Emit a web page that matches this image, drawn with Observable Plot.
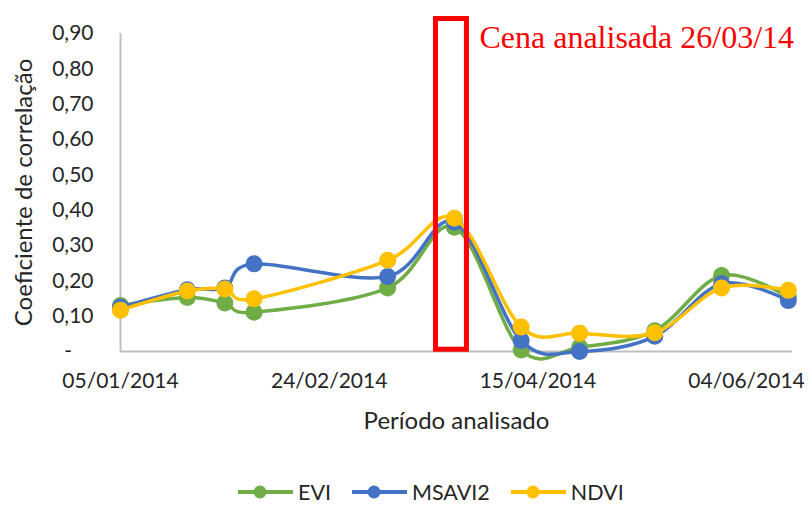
<!DOCTYPE html>
<html>
<head>
<meta charset="utf-8">
<script src="https://cdn.jsdelivr.net/npm/d3@7"></script>
<script src="https://cdn.jsdelivr.net/npm/@observablehq/plot@0.6"></script>
<style>
  html, body { margin: 0; padding: 0; background: #fff; }
  #wrap { position: relative; width: 808px; height: 507px; font-family: Lato, "Open Sans", sans-serif; }
  #legend { position: absolute; left: 238px; top: 478px; height: 28px; display: flex; align-items: center; font-size: 21.5px; color: #262626; }
  #legend .item { display: flex; align-items: center; margin-right: 21px; }
  #legend svg { margin-right: 5px; }
</style>
</head>
<body>
<div id="wrap"><div id="chart"></div><div id="legend"></div></div>
<script>
// ---- data ----
const dates = ["2014-01-05","2014-01-21","2014-01-30","2014-02-06","2014-03-10","2014-03-26","2014-04-11","2014-04-25","2014-05-13","2014-05-29","2014-06-14"];
const evi    = [0.130, 0.153, 0.137, 0.111, 0.180, 0.352, 0.004, 0.012, 0.059, 0.215, 0.154];
const msavi2 = [0.125, 0.175, 0.180, 0.248, 0.212, 0.366, 0.031, 0.000, 0.043, 0.192, 0.144];
const ndvi   = [0.117, 0.171, 0.177, 0.149, 0.258, 0.377, 0.069, 0.052, 0.053, 0.180, 0.173];
const seriesNames = ["EVI", "MSAVI2", "NDVI"];
const seriesColors = ["#70AD47", "#4472C4", "#FFC000"];
const yTicks = [0, 0.1, 0.2, 0.3, 0.4, 0.5, 0.6, 0.7, 0.8, 0.9];
const xTicks = ["2014-01-05", "2014-02-24", "2014-04-15", "2014-06-04"];
const xDomain = ["2014-01-05", "2014-06-15"];
const highlightBox = {x1: "2014-03-21T14:00:00Z", x2: "2014-03-29T00:00:00Z", y1: 0.005, y2: 0.941};
const highlightLabel = {x: "2014-04-01", y: 0.889, text: "Cena analisada 26/03/14"};

// ---- build ----
const parse = s => new Date(s.length === 10 ? s + "T00:00:00Z" : s);
const values = [evi, msavi2, ndvi];
const rows = seriesNames.map((name, i) => dates.map((d, j) => ({series: name, date: parse(d), value: values[i][j]})));
const fmtY = v => v === 0 ? "-\u00a0\u00a0\u00a0\u00a0" : v.toFixed(2).replace(".", ",");
const fmtX = d3.utcFormat("%d/%m/%Y");

const seriesMarks = rows.flatMap((data, i) => [
  Plot.line(data, {x: "date", y: "value", stroke: seriesColors[i], strokeWidth: 3.5, curve: "cardinal"}),
  Plot.dot(data, {x: "date", y: "value", fill: seriesColors[i], r: 8.5, stroke: "none"})
]);

const chart = Plot.plot({
  width: 808,
  height: 455,
  marginLeft: 120,
  marginRight: 16,
  marginTop: 33,
  marginBottom: 104,
  style: {fontFamily: "Lato, 'Open Sans', sans-serif", color: "#404040", background: "white"},
  x: {type: "utc", domain: xDomain.map(parse)},
  y: {domain: [0, 0.9]},
  marks: [
    Plot.ruleX([parse(xDomain[0])], {y1: 0, y2: 0.9, stroke: "#bfbfbf", strokeWidth: 2}),
    Plot.ruleY([0], {stroke: "#bfbfbf", strokeWidth: 2}),
    Plot.axisY({ticks: yTicks, tickSize: 0, tickPadding: 27, tickFormat: fmtY, fontSize: 21, label: null, fill: "#262626"}),
    Plot.axisX({ticks: xTicks.map(parse), tickSize: 0, tickPadding: 22, tickFormat: fmtX, fontSize: 21, label: null, fill: "#262626"}),
    Plot.text(["Período analisado"], {frameAnchor: "bottom", dy: 77, fontSize: 24, fill: "#262626"}),
    Plot.text(["Coeficiente de correlação"], {frameAnchor: "left", textAnchor: "middle", dx: -96, rotate: -90, fontSize: 24, fill: "#262626"}),
    ...seriesMarks,
    Plot.rect([highlightBox], {x1: d => parse(d.x1), x2: d => parse(d.x2), y1: "y1", y2: "y2", fill: "none", stroke: "#ff0000", strokeWidth: 5}),
    Plot.text([highlightLabel], {x: d => parse(d.x), y: "y", text: "text", textAnchor: "start", fontFamily: "'Liberation Serif', 'Times New Roman', serif", fontSize: 32, fill: "#ff0000"})
  ]
});
document.getElementById("chart").appendChild(chart);

// ---- legend ----
const legend = d3.select("#legend");
seriesNames.forEach((name, i) => {
  const item = legend.append("div").attr("class", "item");
  const s = item.append("svg").attr("width", 55).attr("height", 20);
  s.append("line").attr("x1", 0).attr("x2", 55).attr("y1", 10).attr("y2", 10).attr("stroke", seriesColors[i]).attr("stroke-width", 4);
  s.append("circle").attr("cx", 22).attr("cy", 10).attr("r", 6.5).attr("fill", seriesColors[i]);
  item.append("span").text(name);
});
</script>
</body>
</html>
